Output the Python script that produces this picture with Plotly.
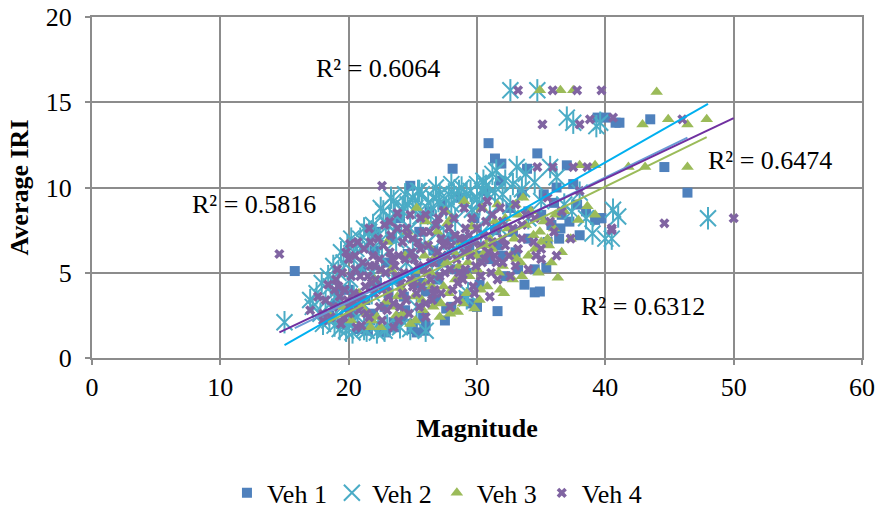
import numpy as np
import plotly.graph_objects as go

# Veh 1 (blue squares)
veh1_x = [15.8, 18.5, 19.0, 19.5, 20.0, 20.3, 20.8, 21.0, 21.3, 21.7, 22.0, 22.1, 22.2, 22.5, 22.8,
          23.0, 23.3, 23.5, 23.8, 24.0, 24.3, 24.6, 24.8, 24.9, 25.2, 25.3, 25.5, 25.8, 26.0, 26.0,
          26.3, 26.6, 27.0, 27.3, 27.6, 28.0, 28.1, 28.3, 28.7, 29.0, 29.4, 29.8, 30.2, 30.6, 30.9,
          31.0, 31.4, 31.4, 31.6, 31.8, 31.9, 32.2, 32.6, 33.0, 33.5, 33.7, 33.9, 34.0, 34.5, 34.5,
          34.7, 34.9, 35.0, 35.4, 35.5, 36.0, 36.2, 36.4, 36.5, 37.0, 37.2, 38.0, 38.5, 39.2, 39.4,
          39.6, 39.7, 40.0, 40.8, 41.1, 43.5, 44.6, 46.4,
          19.2, 20.6, 21.9, 23.1, 24.4, 25.6, 26.8, 28.0, 29.2, 30.4, 31.6, 32.8, 34.0, 35.2, 36.6,
          37.8, 23.6, 25.0, 27.2, 30.0,
          21.5, 22.9, 24.2, 25.9, 27.5, 29.6, 32.0, 33.2, 35.8, 37.5]
veh1_y = [5.1, 2.5, 3.2, 2.0, 4.0, 2.6, 1.7, 5.2, 3.4, 2.2, 6.3, 7.4, 4.4, 1.6, 3.0,
          5.6, 7.0, 2.1, 4.6, 8.2, 3.6, 6.1, 10.1, 1.7, 5.0, 1.5, 7.4, 2.4, 3.9, 1.9,
          8.6, 6.3, 4.6, 9.0, 2.9, 7.1, 11.1, 5.2, 9.4, 3.6, 6.6, 8.2, 4.3, 9.8, 12.6,
          5.8, 7.5, 11.7, 2.75, 10.4, 11.4, 4.8, 8.8, 6.2, 9.6, 4.3, 11.1, 7.0, 5.2, 3.85,
          12.0, 3.9, 8.4, 5.3, 6.8, 9.1, 10.0, 7.0, 7.6, 11.3, 8.0, 7.2, 8.6, 8.1, 14.1,
          8.2, 8.2, 14.1, 13.8, 13.8, 14.0, 11.2, 9.7,
          3.8, 3.0, 2.6, 3.8, 2.8, 4.4, 3.4, 3.0, 5.0, 6.0, 6.6, 7.4, 8.6, 9.6, 8.4,
          9.0, 1.8, 2.0, 5.6, 3.0,
          1.6, 1.5, 2.4, 1.6, 2.2, 3.2, 6.0, 5.2, 7.8, 10.2]

# Veh 2 (cyan stars)
veh2_x = [15.0, 17.5, 17.8, 18.2, 18.6, 18.9, 19.2, 19.5, 19.8, 20.1, 20.4, 20.7, 21.0, 21.2, 21.5,
          21.8, 22.1, 22.3, 22.6, 22.9, 23.2, 23.4, 23.7, 24.0, 24.2, 24.5, 24.8, 25.0, 25.3, 25.6,
          25.9, 26.2, 26.5, 26.8, 27.1, 27.4, 27.7, 28.0, 28.3, 28.6, 28.9, 29.2, 29.3, 29.6, 30.0,
          30.3, 30.5, 30.7, 31.0, 31.4, 31.8, 32.2, 32.6, 32.6, 33.1, 33.5, 34.0, 34.5, 34.7, 35.0,
          35.7, 36.2, 36.8, 37.0, 37.4, 37.5, 38.0, 38.5, 39.0, 39.3, 39.6, 40.0, 40.5, 40.6, 41.0,
          48.0,
          18.0, 18.4, 19.0, 19.6, 20.0, 20.6, 21.1, 21.6, 22.0, 22.4, 22.8, 23.1, 23.6, 24.1, 24.6,
          25.2, 25.7, 26.4, 27.0, 27.6, 28.2, 28.8, 29.5, 30.2, 30.9, 19.3, 20.3, 21.4, 22.2, 23.0,
          17.2, 18.8, 19.9, 20.9, 21.9, 22.7, 23.5, 24.4, 25.4, 26.6, 27.8, 29.0, 30.0, 31.2, 32.0,
          19.0, 20.4, 25.0, 27.0, 28.4,
          17.0, 17.9, 18.5, 19.4, 20.2, 21.2, 22.5, 23.3, 24.3, 25.5, 26.8, 28.0, 29.2, 30.4, 31.5,
          32.8, 33.8, 24.8, 26.0, 21.8]
veh2_y = [2.1, 3.8, 2.6, 3.3, 4.2, 1.9, 5.0, 3.0, 1.6, 4.6, 6.0, 2.4, 5.3, 1.7, 6.8,
          3.8, 7.3, 2.0, 5.9, 7.9, 8.2, 4.5, 6.9, 1.8, 8.6, 5.6, 7.6, 9.4, 3.0, 8.3,
          6.6, 9.1, 4.8, 8.0, 9.6, 7.0, 5.7, 9.0, 8.1, 9.8, 6.4, 3.5, 3.8, 8.7, 9.3,
          7.3, 10.4, 10.1, 8.4, 9.7, 7.6, 10.4, 8.9, 15.7, 11.2, 9.9, 8.2, 10.3, 15.7, 9.2,
          11.2, 10.6, 9.0, 14.1, 8.6, 13.8, 9.7, 8.2, 7.3, 13.6, 13.8, 7.0, 7.0, 8.7, 8.3,
          8.2,
          2.0, 4.8, 3.6, 5.6, 2.0, 6.4, 3.2, 7.4, 4.4, 6.8, 1.6, 7.8, 8.4, 7.2, 9.0,
          8.8, 9.6, 8.6, 9.2, 8.8, 9.6, 10.0, 9.8, 9.0, 9.6, 1.7, 1.5, 1.6, 1.5, 1.9,
          3.0, 5.4, 6.6, 7.0, 7.8, 8.6, 9.2, 9.6, 9.8, 9.4, 9.6, 9.2, 10.2, 10.8, 9.6,
          2.4, 3.6, 6.2, 7.4, 6.8,
          3.4, 4.4, 2.2, 6.2, 7.0, 7.6, 8.8, 9.4, 8.8, 9.8, 10.0, 10.2, 9.6, 9.8, 11.0,
          10.2, 10.8, 1.7, 1.6, 5.0]

# Veh 3 (green triangles)
veh3_x = [18.4, 19.5, 20.2, 20.8, 21.4, 21.7, 22.0, 22.5, 22.9, 23.3, 23.7, 24.1, 24.4, 24.8, 25.1,
          25.3, 25.5, 25.8, 26.2, 26.5, 26.9, 27.2, 27.6, 27.7, 28.0, 28.3, 28.5, 28.8, 29.2, 29.6,
          29.8, 30.0, 30.4, 30.8, 31.2, 31.6, 32.0, 32.4, 32.8, 33.2, 33.6, 34.0, 34.4, 34.8, 34.9,
          35.2, 35.6, 36.0, 36.3, 36.5, 36.8, 37.3, 37.5, 37.9, 38.0, 38.6, 39.2, 39.2, 41.8, 42.9,
          43.1, 44.0, 44.9, 46.4, 46.4, 47.9,
          21.0, 21.8, 22.6, 23.4, 24.2, 25.0, 25.7, 26.4, 27.1, 27.8, 28.6, 29.4, 30.2, 31.0, 31.8,
          32.6, 33.4, 34.2, 35.0, 35.8, 36.6, 24.6, 26.0, 27.5, 29.0, 30.6, 32.2, 33.8, 23.0, 26.8,
          22.2, 23.8, 25.2, 26.6, 27.9, 29.3, 30.7, 32.1, 33.5, 34.9, 36.1, 28.2, 31.4, 25.9, 33.0,
          26.0, 27.4, 28.9, 30.3, 31.7, 33.1, 34.5, 35.5, 29.9, 32.9]
veh3_y = [2.6, 3.0, 2.2, 3.8, 2.6, 1.8, 4.6, 1.8, 3.3, 5.2, 2.5, 4.1, 6.0, 2.0, 3.6,
          8.8, 5.1, 2.8, 6.6, 4.2, 7.4, 3.2, 5.6, 7.9, 8.2, 4.6, 2.7, 6.8, 3.8, 7.7,
          2.9, 5.2, 8.8, 4.2, 6.4, 9.0, 5.4, 7.6, 4.6, 8.4, 9.4, 6.0, 7.2, 5.0, 15.7,
          8.0, 6.6, 7.6, 4.7, 15.7, 8.6, 7.0, 15.7, 8.1, 11.3, 8.9, 8.4, 11.3, 11.2, 13.7,
          11.2, 15.6, 14.0, 13.7, 11.2, 14.0,
          3.0, 2.2, 4.0, 3.0, 2.6, 4.6, 3.4, 5.0, 2.4, 3.8, 5.4, 4.8, 3.4, 7.0, 4.0,
          6.0, 5.6, 8.6, 6.8, 5.6, 6.2, 7.4, 8.0, 8.6, 9.2, 6.2, 8.2, 7.8, 6.8, 6.0,
          2.4, 3.6, 2.2, 3.0, 2.6, 5.6, 6.6, 3.8, 4.8, 7.4, 8.4, 6.2, 8.0, 6.0, 9.0,
          4.4, 4.2, 3.2, 4.0, 5.0, 5.8, 6.4, 7.0, 6.0, 7.0]

# Veh 4 (purple crosses)
veh4_x = [14.6, 17.0, 17.6, 18.0, 18.4, 18.8, 19.1, 19.4, 19.7, 20.0, 20.1, 20.3, 20.6, 20.9, 21.2,
          21.4, 21.7, 22.0, 22.3, 22.6, 22.6, 22.9, 23.2, 23.5, 23.8, 23.8, 24.1, 24.4, 24.7, 25.0,
          25.3, 25.6, 25.9, 26.2, 26.5, 26.8, 27.1, 27.4, 27.7, 27.9, 28.3, 28.6, 29.0, 29.3, 29.7,
          30.0, 30.4, 30.8, 31.2, 31.6, 32.0, 32.5, 33.0, 33.2, 33.5, 34.0, 34.5, 34.7, 35.0, 35.1,
          35.5, 35.9, 35.9, 36.0, 36.6, 37.3, 37.5, 37.8, 38.0, 38.0, 38.6, 38.8, 39.7, 40.5, 40.5,
          40.6, 44.6, 46.0, 50.0,
          18.2, 18.6, 19.0, 19.3, 19.6, 19.9, 20.2, 20.5, 20.8, 21.0, 21.3, 21.6, 21.9, 22.1, 22.4,
          22.7, 23.0, 23.3, 23.6, 23.9, 24.2, 24.5, 24.8, 25.1, 25.4, 25.7, 26.0, 26.3, 26.6, 26.9,
          27.2, 27.5, 27.8, 28.1, 28.4, 28.7, 29.1, 29.5, 29.9, 30.3, 30.7, 31.1, 31.5, 32.0, 32.6,
          33.2, 33.8, 34.4, 35.0, 35.7,
          19.5, 20.4, 21.1, 21.8, 22.5, 23.1, 23.7, 24.3, 24.9, 25.5, 26.1, 26.7, 27.3, 27.9, 28.5,
          29.1, 29.7, 30.3, 30.9, 31.5, 20.0, 21.5, 23.0, 24.5, 26.0, 27.5, 29.0, 30.5, 22.0, 25.0,
          18.0, 18.9, 19.8, 20.7, 21.6, 22.4, 23.2, 24.0, 24.8, 25.6, 26.4, 27.2, 28.0, 28.8, 29.6,
          30.4, 31.2, 32.0, 21.0, 23.5, 26.0, 28.5, 31.0, 33.5, 36.2,
          19.2, 20.0, 20.9, 21.7, 22.6, 23.4, 24.2, 25.0, 25.8, 26.6, 27.4, 28.2, 29.0, 29.8, 30.6,
          31.4, 32.2, 33.0, 24.6, 27.0, 22.8, 25.4, 28.9, 31.8, 20.5, 23.9, 26.4, 29.4, 32.8, 34.6]
veh4_y = [6.1, 2.8, 3.6, 2.2, 4.3, 3.0, 5.2, 2.0, 4.0, 5.8, 6.7, 3.2, 1.8, 4.8, 6.4,
          2.6, 5.4, 3.8, 7.0, 2.2, 10.1, 5.0, 6.2, 3.2, 7.6, 8.5, 4.4, 5.8, 2.6, 7.0,
          3.8, 8.2, 5.2, 6.6, 3.4, 7.8, 4.8, 8.6, 6.0, 3.0, 7.2, 5.0, 8.8, 6.4, 4.2,
          7.6, 5.6, 9.2, 6.8, 4.6, 8.0, 6.0, 9.0, 15.7, 7.0, 5.2, 8.2, 11.2, 6.4, 13.7,
          9.4, 15.7, 11.2, 7.4, 8.6, 7.0, 11.2, 15.7, 9.8, 13.7, 11.2, 14.0, 15.7, 7.5, 7.6,
          14.1, 7.9, 14.0, 8.2,
          3.4, 2.4, 4.6, 3.6, 2.4, 3.4, 4.8, 6.0, 2.8, 3.4, 4.2, 2.4, 6.0, 4.6, 3.0,
          6.6, 4.2, 7.2, 5.4, 2.2, 6.8, 3.4, 4.6, 5.8, 6.8, 4.2, 3.2, 7.4, 5.6, 6.2,
          7.0, 5.0, 7.6, 4.0, 5.8, 7.0, 5.2, 6.0, 5.4, 6.6, 8.0, 5.0, 7.6, 7.0, 4.8,
          6.4, 8.4, 6.8, 5.8, 8.0,
          5.0, 3.8, 5.6, 4.4, 5.2, 3.6, 4.8, 5.0, 6.2, 3.0, 5.0, 4.0, 6.0, 5.2, 4.4,
          7.6, 6.8, 4.8, 6.2, 5.6, 3.0, 4.8, 2.8, 7.6, 8.4, 6.8, 7.0, 7.2, 5.4, 4.2,
          2.6, 4.0, 6.2, 6.8, 7.6, 5.8, 8.0, 3.0, 8.4, 6.4, 5.6, 3.8, 6.6, 4.8, 8.2,
          8.8, 8.4, 5.6, 1.9, 1.8, 2.4, 3.4, 3.6, 7.8, 6.0,
          4.2, 2.6, 3.6, 6.8, 4.0, 5.8, 3.8, 4.4, 7.4, 3.8, 6.6, 8.2, 6.2, 3.8, 5.8,
          6.0, 6.6, 5.4, 7.2, 8.2, 7.8, 5.4, 4.6, 8.8, 5.2, 6.0, 4.6, 7.2, 7.6, 6.0]

# linear trend lines: slope, intercept
trend1 = (0.365, -4.01)
trend2 = (0.4285, -5.67)
trend3 = (0.368, -4.67)
trend4 = (0.355, -3.68)
r2_labels = ["R² = 0.6064", "R² = 0.5816", "R² = 0.6474", "R² = 0.6312"]

FONT = "Times New Roman, Liberation Serif, DejaVu Serif, serif"
FS = 26
GRID = "#8c8c8c"

fig = go.Figure()
fig.add_trace(go.Scatter(x=veh1_x, y=veh1_y, mode="markers", name="Veh 1",
                         marker=dict(symbol="square", size=10, color="#4F81BD")))
fig.add_trace(go.Scatter(x=veh2_x, y=veh2_y, mode="markers", name="Veh 2", legendgroup="v2",
                         marker=dict(symbol="x-thin-open", size=16, color="#4BACC6",
                                     line=dict(color="#4BACC6", width=2))))
fig.add_trace(go.Scatter(x=veh2_x, y=veh2_y, mode="markers", showlegend=False, legendgroup="v2",
                         hoverinfo="skip",
                         marker=dict(symbol="line-ns-open", size=16, color="#4BACC6",
                                     line=dict(color="#4BACC6", width=2))))
fig.add_trace(go.Scatter(x=veh3_x, y=veh3_y, mode="markers", name="Veh 3",
                         marker=dict(symbol="triangle-up", size=11, color="#9BBB59")))
fig.add_trace(go.Scatter(x=veh4_x, y=veh4_y, mode="markers", name="Veh 4",
                         marker=dict(symbol="x", size=9, color="#8064A2",
                                     line=dict(width=0))))

for xs, (a, b), col in [(veh1_x, trend1, "#6a9bd6"), (veh2_x, trend2, "#00B0F0"),
                        (veh3_x, trend3, "#9BBB59"), (veh4_x, trend4, "#7030A0")]:
    tx = np.array([min(xs), max(xs)])
    fig.add_trace(go.Scatter(x=tx, y=a * tx + b, mode="lines", showlegend=False,
                             hoverinfo="skip", line=dict(color=col, width=2)))

for txt, x, y in zip(r2_labels, [22.3, 12.6, 52.8, 42.9], [17.0, 9.0, 11.6, 3.05]):
    fig.add_annotation(x=x, y=y, text=txt, showarrow=False,
                       font=dict(family=FONT, size=FS, color="black"))

fig.update_layout(
    width=878, height=514,
    margin=dict(l=92, r=16, t=17, b=156, autoexpand=False),
    paper_bgcolor="white", plot_bgcolor="white",
    font=dict(family=FONT, size=FS, color="black"),
    showlegend=True,
    legend=dict(orientation="h", x=0.448, xanchor="center", yref="container", y=0.041,
                yanchor="middle", font=dict(family=FONT, size=FS), itemsizing="trace"),
)
fig.update_xaxes(range=[0, 60], dtick=10, showgrid=True, gridcolor=GRID, gridwidth=2,
                 showline=True, linecolor=GRID, linewidth=2, mirror=True, zeroline=False,
                 automargin=False, ticks="outside", ticklen=5, tickcolor=GRID, tickwidth=2,
                 ticklabeloverflow="allow", tickfont=dict(family=FONT, size=FS),
                 title=dict(text="<b>Magnitude</b>", standoff=18, font=dict(family=FONT, size=FS)))
fig.update_yaxes(range=[0, 20], dtick=5, showgrid=True, gridcolor=GRID, gridwidth=2,
                 showline=True, linecolor=GRID, linewidth=2, mirror=True, zeroline=False,
                 automargin=False, ticks="outside", ticklen=5, tickcolor=GRID, tickwidth=2,
                 ticklabelstandoff=8, ticklabeloverflow="allow", tickfont=dict(family=FONT, size=FS),
                 title=dict(text="<b>Average IRI</b>", standoff=10, font=dict(family=FONT, size=FS)))

# drop the browser's default 8px body margin so the figure fills the window
fig.write_html("out.html", config={"displayModeBar": False},
               post_script="document.body.style.margin = '0';")
